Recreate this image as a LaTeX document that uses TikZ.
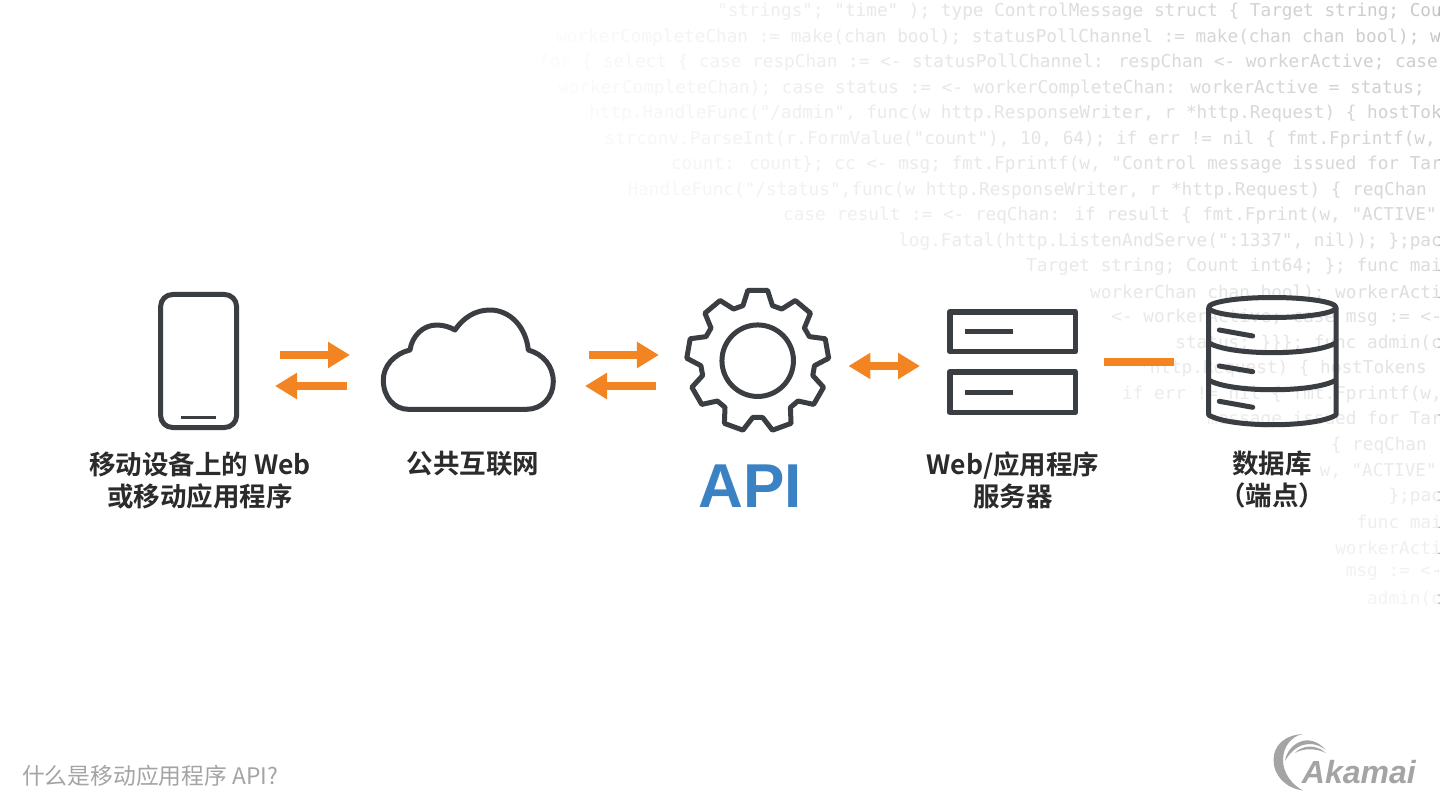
\documentclass[tikz,border=0pt]{standalone}
\usepackage{fontspec}
\usepackage{xcolor}
\usetikzlibrary{arrows.meta,calc,fadings}
\newfontfamily\labelfont{Noto Sans CJK SC Bold}
\newfontfamily\notefont{Noto Sans CJK SC}
\newfontfamily\brandfont{Liberation Sans}
\newfontfamily\codefont{DejaVu Sans Mono}
\definecolor{flowcol}{HTML}{F28522}
\definecolor{iconcol}{HTML}{3A3D42}
\definecolor{apicol}{HTML}{3B82C4}
\definecolor{textcol}{HTML}{2B2B2B}
\definecolor{notecol}{HTML}{A4A4A4}
\definecolor{codecol}{HTML}{B4B4B4}
\tikzfading[name=fadecodex, left color=transparent!0, right color=transparent!100]
\tikzfading[name=fadecodey, bottom color=transparent!0, top color=transparent!100]
\tikzset{
  icon/.style={draw=iconcol, line width=5pt, line join=round, outer sep=0pt, inner sep=0pt},
  slot/.style={draw=iconcol, line width=5pt},
  holder/.style={outer sep=0pt, inner sep=0pt},
  flow/.style={draw=flowcol, line width=8pt},
  caption/.style={text=textcol, align=center, font={\labelfont\fontsize{26.5}{32}\selectfont}},
  codeline/.style={anchor=east, inner sep=0pt, text=codecol, font={\codefont\fontsize{17.7}{18}\selectfont}}
}

\begin{document}
\begin{tikzpicture}[x=1pt, y=-1pt, >={Triangle[length=22pt,width=25pt]}]
  \useasboundingbox (0,0) rectangle (1440,810);
  \fill[white] (0,0) rectangle (1440,810);

  % Code in the background
  \node[codeline] (c1) at (1442,12) {"strings"; "time" ); type ControlMessage struct \{ Target string; Cou};
  \node[codeline] (c2) at (1441,37.5) {workerCompleteChan := make(chan bool); statusPollChannel := make(chan chan bool); w};
  \node[codeline] (c3) at (1438,63) {for \{ select \{ case respChan := <- statusPollChannel: respChan <- workerActive; case};
  \node[codeline] (c4) at (1425,88.5) {workerCompleteChan); case status := <- workerCompleteChan: workerActive = status;};
  \node[codeline] (c5) at (1442,114) {http.HandleFunc("/admin", func(w http.ResponseWriter, r *http.Request) \{ hostTok};
  \node[codeline] (c6) at (1436,139.5) {strconv.ParseInt(r.FormValue("count"), 10, 64); if err != nil \{ fmt.Fprintf(w,};
  \node[codeline] (c7) at (1442,165) {count: count\}; cc <- msg; fmt.Fprintf(w, "Control message issued for Tar};
  \node[codeline] (c8) at (1427,190.5) {HandleFunc("/status",func(w http.ResponseWriter, r *http.Request) \{ reqChan};
  \node[codeline] (c9) at (1437,216) {case result := <- reqChan: if result \{ fmt.Fprint(w, "ACTIVE"};
  \node[codeline] (c10) at (1442,241.5) {log.Fatal(http.ListenAndServe(":1337", nil)); \};pac};
  \node[codeline] (c11) at (1442,267) {Target string; Count int64; \}; func mai};
  \node[codeline] (c12) at (1442,292.5) {workerChan chan bool); workerActi};
  \node[codeline] (c13) at (1442,318) {<- workerActive; case msg := <-};
  \node[codeline] (c14) at (1442,343.5) {status; \}\}\}; func admin(c};
  \node[codeline] (c15) at (1427,369) {*http.Request) \{ hostTokens};
  \node[codeline] (c16) at (1442,394.5) {if err != nil \{ fmt.Fprintf(w,};
  \node[codeline] (c17) at (1442,420) {message issued for Tar};
  \node[codeline] (c18) at (1427,445.5) {\{ reqChan};
  \node[codeline] (c19) at (1437,471) {w, "ACTIVE"};
  \node[codeline] (c20) at (1442,496.5) {\};pac};
  \node[codeline] (c21) at (1442,522) {func mai};
  \node[codeline] (c22) at (1442,547.5) {workerActi};
  \node[codeline] (c23) at (1442,573) {msg := <-};
  \node[codeline] (c24) at (1442,598.5) {admin(c};
  \fill[white, path fading=fadecodex] (500,0) rectangle (1560,640);
  \fill[white, path fading=fadecodey] (400,-160) rectangle (1440,760);

  % Define the icons
  \node[icon, minimum width=76pt, minimum height=133pt, rounded corners=12pt] (phone) at (198.6,361) {};
  \node[holder, minimum width=175pt, minimum height=104pt] (cloud) at (468,360) {};
  \node[icon, circle, minimum size=71.5pt] (gear) at (757.7,360.7) {};
  \node[holder, minimum width=131pt, minimum height=106pt] (server) at (1012.5,362) {};
  \node[icon, line width=5.5pt, minimum width=125.5pt, minimum height=39.8pt] (servertop) at (1012.5,331.7) {};
  \node[icon, line width=5.5pt, minimum width=125.5pt, minimum height=40.5pt] (serverbot) at (1012.5,392) {};
  \node[holder, minimum width=132pt, minimum height=132pt] (db) at (1272.3,362) {};

  % Icon details
  \draw[iconcol, line width=3pt] (181,417) -- (216,417);
  \draw[icon] (408.3,409.3) -- (526.7,409.3) .. controls (542,409.3) and (553.3,397) .. (553.3,381.7)
    .. controls (553.3,366) and (543,354) .. (528.3,350) .. controls (526,327) and (510,310) .. (490,310)
    .. controls (475,310) and (463,318) .. (455,330) .. controls (450,327) and (443,325) .. (436.7,325)
    .. controls (423,325) and (412,336) .. (410,350) .. controls (394,354) and (383.3,366) .. (383.3,380)
    .. controls (383.3,397) and (394,409.3) .. (408.3,409.3) -- cycle;
  \draw[icon] ($(gear)+(105:57pt)$) \foreach \a in {90,50,...,-230} {
    -- ($(gear)+(\a+15:57pt)$) -- ($(gear)+(\a+8:71pt)$) -- ($(gear)+(\a-8:71pt)$) -- ($(gear)+(\a-15:57pt)$)} -- cycle;
  \draw[slot] (964.7,331.3) -- (1012.7,331.3);
  \draw[slot] (964.7,392) -- (1012.7,392);
  \draw[icon] (1272.3,307.5) ellipse [x radius=63.7, y radius=10];
  \draw[icon] (1208.6,307.5) -- (1208.6,415) .. controls (1230,428) and (1315,428) .. (1336,415) -- (1336,307.5);
  \draw[icon] (1208.6,342.7) .. controls (1230,356) and (1315,356) .. (1336,342.7);
  \draw[icon] (1208.6,380) .. controls (1230,393) and (1315,393) .. (1336,380);
  \draw[slot, line cap=round] (1219.3,330) -- (1252.7,336);
  \draw[slot, line cap=round] (1219.3,366) -- (1252.7,371.7);
  \draw[slot, line cap=round] (1219.3,401.3) -- (1252.7,407.3);

  % Draw arrows between nodes
  \draw[flow, ->, shorten <=43.4pt, shorten >=30.5pt] ([yshift=6pt]phone.east) to ([yshift=5pt]cloud.west);
  \draw[flow, ->, shorten <=33.5pt, shorten >=38.4pt] ([yshift=-26pt]cloud.west) to ([yshift=-25pt]phone.east);
  \draw[flow, ->, shorten <=33.5pt, shorten >=63pt] ([yshift=5pt]cloud.east) to ([yshift=5.7pt]gear.west);
  \draw[flow, ->, shorten <=66pt, shorten >=29.5pt] ([yshift=-25.3pt]gear.west) to ([yshift=-26pt]cloud.east);
  \draw[flow, <->, shorten <=55pt, shorten >=27pt] ([yshift=-5.3pt]gear.east) to ([yshift=-4pt]server.west);
  \draw[flow, shorten <=25.7pt, shorten >=32pt] (server.east) to (db.west);

  % Labels
  \node[caption] (phonetext) at (200,480) {移动设备上的 Web\\或移动应用程序};
  \node[caption] (cloudtext) at (473,464) {公共互联网};
  \node[anchor=base, inner sep=0pt, text=apicol, font={\brandfont\bfseries\fontsize{62}{62}\selectfont}] (apitext) at (750,507.5) {API};
  \node[caption] (servertext) at (1013,480) {Web/应用程序\\服务器};
  \node[caption] (dbtext) at (1272,480) {数据库\\（端点）};
  \node[anchor=west, inner sep=0pt, text=notecol, font={\notefont\fontsize{22.8}{23}\selectfont}] (note) at (22,776) {什么是移动应用程序 API?};

  % Logo
  \fill[notecol] (1303,734) .. controls (1285,735) and (1273.5,745) .. (1273.5,760) .. controls (1273.5,775) and (1285,788) .. (1303,790.5)
    .. controls (1292,785) and (1283,773) .. (1283,760) .. controls (1283,746) and (1292,736) .. (1303,734) -- cycle;
  \fill[notecol] (1285,761) .. controls (1287,745) and (1308,730) .. (1326,750) .. controls (1310,738) and (1294,745) .. (1285,761) -- cycle;
  \fill[notecol] (1295,753) .. controls (1302,745) and (1316,744) .. (1326,753) .. controls (1316,748) and (1303,748) .. (1295,753) -- cycle;
  \node[anchor=base west, inner sep=0pt, text=notecol, font={\brandfont\bfseries\itshape\fontsize{32}{32}\selectfont}] (logo) at (1301.7,783) {Akamai};
\end{tikzpicture}
\end{document}
